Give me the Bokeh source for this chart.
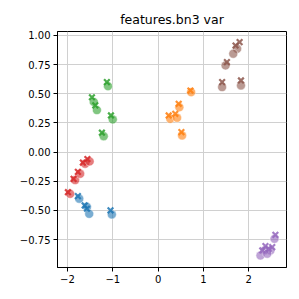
from bokeh.plotting import figure
from bokeh.models import FixedTicker, Range1d
from bokeh.embed import file_html
from bokeh.resources import INLINE

title_text = "features.bn3 var"
colors = ["#1f77b4", "#d62728", "#2ca02c", "#ff7f0e", "#8c564b", "#9467bd"]

# x-marker points per group
blue_cross_x = [-1.77, -1.62, -1.57, -1.05]
blue_cross_y = [-0.378, -0.458, -0.486, -0.50]
blue_circ_x = [-1.74, -1.57, -1.52, -1.02]
blue_circ_y = [-0.40, -0.47, -0.53, -0.535]

red_cross_x = [-1.99, -1.865, -1.77, -1.66, -1.56]
red_cross_y = [-0.344, -0.23, -0.17, -0.09, -0.06]
red_circ_x = [-1.94, -1.83, -1.72, -1.61, -1.51]
red_circ_y = [-0.358, -0.24, -0.186, -0.10, -0.08]

green_cross_x = [-1.13, -1.46, -1.386, -1.04, -1.24]
green_cross_y = [0.60, 0.47, 0.40, 0.314, 0.166]
green_circ_x = [-1.105, -1.42, -1.35, -1.00, -1.20]
green_circ_y = [0.565, 0.43, 0.36, 0.28, 0.136]

orange_cross_x = [0.714, 0.455, 0.234, 0.38, 0.515]
orange_cross_y = [0.528, 0.414, 0.314, 0.328, 0.171]
orange_circ_x = [0.73, 0.47, 0.27, 0.42, 0.53]
orange_circ_y = [0.514, 0.385, 0.285, 0.294, 0.142]

brown_cross_x = [1.80, 1.71, 1.52, 1.414, 1.83]
brown_cross_y = [0.943, 0.914, 0.771, 0.60, 0.614]
brown_circ_x = [1.745, 1.66, 1.49, 1.414, 1.83]
brown_circ_y = [0.886, 0.843, 0.743, 0.557, 0.571]

purple_cross_x = [2.59, 2.52, 2.37, 2.30, 2.44]
purple_cross_y = [-0.71, -0.815, -0.807, -0.844, -0.83]
purple_circ_x = [2.57, 2.48, 2.35, 2.26, 2.41]
purple_circ_y = [-0.744, -0.844, -0.844, -0.887, -0.872]

x_ticks = [-2, -1, 0, 1, 2]
x_tick_labels = ["\u22122", "\u22121", "0", "1", "2"]
y_ticks = [1.0, 0.75, 0.5, 0.25, 0.0, -0.25, -0.5, -0.75]
y_tick_labels = ["1.00", "0.75", "0.50", "0.25", "0.00", "\u22120.25", "\u22120.50", "\u22120.75"]

circ_sets = [(blue_circ_x, blue_circ_y), (red_circ_x, red_circ_y), (green_circ_x, green_circ_y),
             (orange_circ_x, orange_circ_y), (brown_circ_x, brown_circ_y), (purple_circ_x, purple_circ_y)]
cross_sets = [(blue_cross_x, blue_cross_y), (red_cross_x, red_cross_y), (green_cross_x, green_cross_y),
              (orange_cross_x, orange_cross_y), (brown_cross_x, brown_cross_y), (purple_cross_x, purple_cross_y)]

p = figure(width=291, height=291, output_backend="svg", toolbar_location=None,
           x_range=Range1d(-2.22, 2.835), y_range=Range1d(-0.99, 1.034),
           min_border_left=57, min_border_right=5, min_border_top=31, min_border_bottom=24)

p.title.text = title_text
p.title.align = "center"
p.title.text_font = "DejaVu Sans"
p.title.text_font_size = "12.5px"
p.title.text_font_style = "normal"
p.title.text_color = "black"

for c, (xs, ys) in zip(colors, circ_sets):
    p.scatter(xs, ys, marker="circle", size=9, fill_color=c, fill_alpha=0.6,
              line_color="white", line_width=0.6, line_alpha=0.8)
for c, (xs, ys) in zip(colors, cross_sets):
    p.scatter(xs, ys, marker="x", size=8, line_color=c, line_width=2.2, line_alpha=0.85)

p.xaxis.ticker = FixedTicker(ticks=x_ticks)
p.yaxis.ticker = FixedTicker(ticks=y_ticks)
p.xaxis.major_label_overrides = {t: l for t, l in zip(x_ticks, x_tick_labels)}
p.yaxis.major_label_overrides = {t: l for t, l in zip(y_ticks, y_tick_labels)}

for ax in (p.xaxis, p.yaxis):
    ax.minor_tick_line_color = None
    ax.major_tick_in = 0
    ax.major_tick_out = 4
    ax.major_tick_line_color = "black"
    ax.axis_line_color = "black"
    ax.major_label_text_font = "DejaVu Sans"
    ax.major_label_text_font_size = "10px"
    ax.major_label_text_color = "black"
    ax.major_label_standoff = 3

p.grid.grid_line_color = "#d0d0d0"
p.grid.grid_line_width = 1
p.outline_line_color = "black"
p.outline_line_width = 1
p.background_fill_color = "white"

open("out.html", "w").write(file_html(p, INLINE))
